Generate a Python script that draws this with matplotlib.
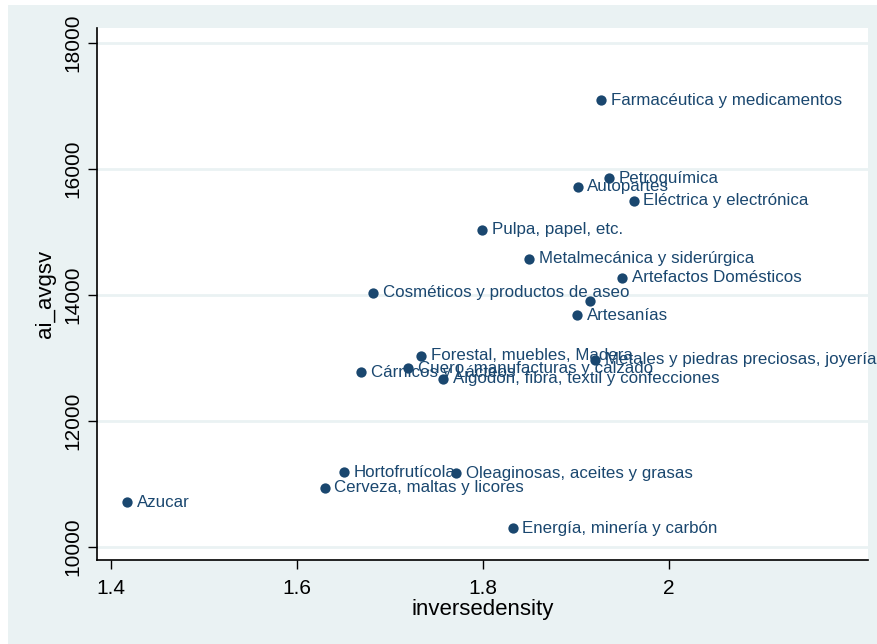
import matplotlib
matplotlib.use("Agg")
import matplotlib.pyplot as plt
from matplotlib.patches import Rectangle

plt.rcParams["font.family"] = ["Liberation Sans", "DejaVu Sans"]

NAVY = "#1A476F"
BG = "#EAF2F3"

sectors = [
    "Azucar", "Cerveza, maltas y licores", "Hortofrutícola",
    "Oleaginosas, aceites y grasas", "Energía, minería y carbón",
    "Cárnicos y Lácteos", "Cuero, manufacturas y calzado",
    "Forestal, muebles, Madera", "Algodón, fibra, textil y confecciones",
    "Metales y piedras preciosas, joyería", "Artesanías",
    "Cosméticos y productos de aseo", "", "Artefactos Domésticos",
    "Metalmecánica y siderúrgica", "Pulpa, papel, etc.", "Autopartes",
    "Petroquímica", "Eléctrica y electrónica", "Farmacéutica y medicamentos",
]
inversedensity = [
    1.418, 1.630, 1.651, 1.771, 1.832, 1.669, 1.720, 1.734, 1.757, 1.921,
    1.901, 1.682, 1.915, 1.950, 1.850, 1.799, 1.902, 1.936, 1.962, 1.927,
]
ai_avgsv = [
    10710, 10942, 11185, 11172, 10300, 12769, 12837, 13034, 12669, 12971,
    13674, 14035, 13902, 14273, 14569, 15036, 15712, 15846, 15490, 17085,
]

fig = plt.figure(figsize=(8.77, 6.44), dpi=100, facecolor="white")
fig.patches.append(Rectangle((8 / 877, 0), 1, 1 - 5 / 644, transform=fig.transFigure,
                             facecolor=BG, edgecolor="none", zorder=-10))

ax = fig.add_axes([96.7 / 877, 84 / 644, 771.3 / 877, 532 / 644])
ax.set_facecolor("white")

ax.scatter(inversedensity, ai_avgsv, s=55, color=NAVY, zorder=3, linewidths=0)
for x, y, name in zip(inversedensity, ai_avgsv, sectors):
    ax.annotate(name, (x, y), xytext=(7, 0), textcoords="offset points",
                va="center", ha="left", fontsize=12.2, color=NAVY, zorder=4)

ax.set_xlim(1.385, 2.214)
ax.set_ylim(9794, 18233)
ax.set_xticks([1.4, 1.6, 1.8, 2.0])
ax.set_xticklabels(["1.4", "1.6", "1.8", "2"])
ax.set_yticks([10000, 12000, 14000, 16000, 18000])
ax.yaxis.grid(True, color=BG, linewidth=2)
ax.set_axisbelow(True)

for side in ["top", "right"]:
    ax.spines[side].set_visible(False)
for side in ["left", "bottom"]:
    ax.spines[side].set_linewidth(1.2)

ax.tick_params(axis="both", direction="out", length=6.5, width=1, labelsize=15)
ax.tick_params(axis="x", pad=7)
ax.tick_params(axis="y", pad=4)
for lab in ax.get_yticklabels():
    lab.set_rotation(90)
    lab.set_va("center")

ax.set_xlabel("inversedensity", fontsize=16)
ax.set_ylabel("ai_avgsv", fontsize=16)
ax.xaxis.set_label_coords(0.5, -0.074)
ax.yaxis.set_label_coords(-0.053, 0.5)

fig.savefig("out.png", dpi=100, facecolor="white")
